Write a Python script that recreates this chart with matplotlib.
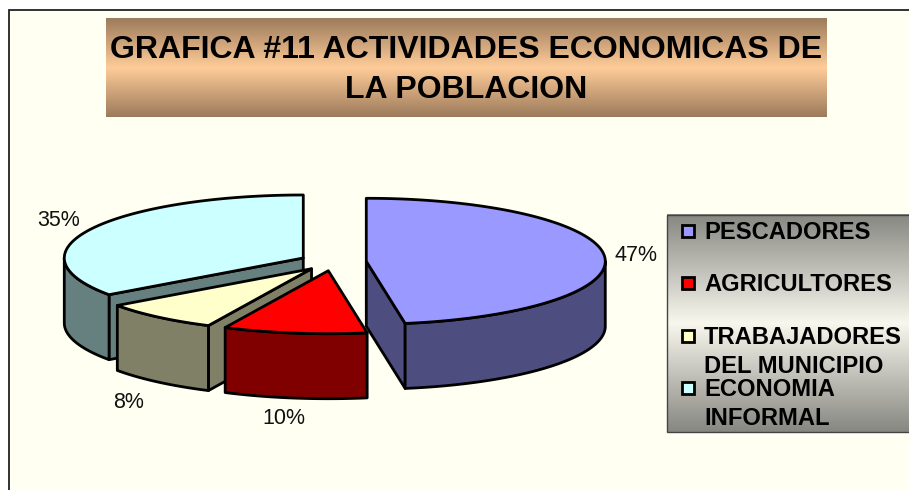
import numpy as np
import matplotlib
matplotlib.use('Agg')
import matplotlib.pyplot as plt

plt.rcParams['font.family'] = ['Liberation Sans', 'DejaVu Sans']

# == data
title_lines = ['GRAFICA #11 ACTIVIDADES ECONOMICAS DE', 'LA POBLACION']
categories = [['PESCADORES'], ['AGRICULTORES'], ['TRABAJADORES', 'DEL MUNICIPIO'], ['ECONOMIA', 'INFORMAL']]
values = [47.4, 9.7, 8.0, 34.9]
top_colors = ['#9999FF', '#FF0000', '#FFFFCC', '#CCFFFF']
side_colors = ['#4D4D80', '#800000', '#808066', '#668080']

# pixel geometry
cx, cy = 333, 262
rx, ry = 239, 63
depth = 65
explode = 33.4
lw = 2.0

fig = plt.figure(figsize=(9.09, 4.9), dpi=100, facecolor='white')
ax = fig.add_axes([0, 0, 1, 1])
ax.set_xlim(0, 909)
ax.set_ylim(490, 0)
ax.axis('off')


def gradient(x0, y0, x1, y1, edge, mid):
    # vertical band: edge colour top and bottom, mid colour in the centre
    t = np.abs(np.linspace(-1, 1, 200))[:, None, None]
    img = np.array(mid)[None, None, :] * (1 - t) + np.array(edge)[None, None, :] * t
    ax.imshow(img, extent=[x0, x1, y1, y0], aspect='auto', interpolation='bilinear', zorder=1)


# chart area
ax.add_patch(plt.Rectangle((9, 10), 920, 500, fc='#FFFFF2', ec='#222222', lw=1.3, zorder=0))

# title box
gradient(106, 19, 827, 117, (0.61, 0.48, 0.36), (1.0, 0.80, 0.60))
ax.text(466, 50.5, title_lines[0], fontsize=23, fontweight='bold', ha='center', va='center', zorder=5)
ax.text(466, 90, title_lines[1], fontsize=23, fontweight='bold', ha='center', va='center', zorder=5)


def rim(ang, ox, oy, dz=0):
    a = np.radians(ang)
    return ox + rx * np.sin(a), oy - ry * np.cos(a) + dz


edges = np.concatenate([[0], np.cumsum(values)]) * 3.6

# back slices first
for i in [3, 2, 0, 1]:
    a0, a1 = edges[i], edges[i + 1]
    mid = np.radians((a0 + a1) / 2)
    ox = cx + explode * np.sin(mid)
    oy = cy - explode * ry / rx * np.cos(mid)

    # cut faces
    for ang, show in [(a0, 180 < a0 < 360), (a1, 0 < a1 < 180)]:
        if show:
            x, y = rim(ang, ox, oy)
            ax.fill([ox, x, x, ox], [oy, y, y + depth, oy + depth], fc=side_colors[i], ec='black',
                    lw=lw, joinstyle='round', zorder=2)

    # outer wall, only the front half of the pie shows
    w0, w1 = max(a0, 90), min(a1, 270)
    if w1 > w0:
        angs = np.linspace(w0, w1, 80)
        xs, ys = rim(angs, ox, oy)
        ax.fill(np.r_[xs, xs[::-1]], np.r_[ys, ys[::-1] + depth], fc=side_colors[i], ec='black',
                lw=lw, joinstyle='round', zorder=2)

    # top
    angs = np.linspace(a0, a1, 120)
    xs, ys = rim(angs, ox, oy)
    ax.fill(np.r_[ox, xs], np.r_[oy, ys], fc=top_colors[i], ec='black', lw=lw, joinstyle='round', zorder=2)

# percent labels
label_pos = [(636, 255), (284, 418), (129, 402), (59, 220)]
for v, (x, y) in zip(values, label_pos):
    ax.text(x, y, '%d%%' % round(v), fontsize=15.5, color='#111111', ha='center', va='center', zorder=5)

# legend
gradient(667, 215, 920, 432, (0.53, 0.53, 0.51), (0.97, 0.97, 0.93))
ax.add_patch(plt.Rectangle((667, 215), 260, 217, fc='none', ec='#444444', lw=1, zorder=2))
legend_y = [231, 283, 336, 388]
for names, color, y in zip(categories, top_colors, legend_y):
    ax.add_patch(plt.Rectangle((682, y - 6), 12, 12, fc=color, ec='black', lw=2.0, zorder=5))
    for k, name in enumerate(names):
        ax.text(704, y + 1 + k * 29, name, fontsize=17.1, fontweight='bold', ha='left', va='center', zorder=5)

ax.set_xlim(0, 909)
ax.set_ylim(490, 0)
fig.savefig('out.png', dpi=100)
